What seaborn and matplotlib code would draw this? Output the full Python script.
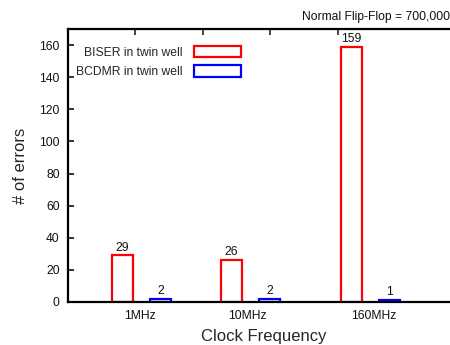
import seaborn as sns
import pandas as pd
import matplotlib.pyplot as plt
from matplotlib.ticker import FixedLocator

# data
freqs = ["1MHz", "10MHz", "160MHz"]
biser = [29, 26, 159]
bcdmr = [2, 2, 1]
series_names = ["BISER in twin well", "BCDMR in twin well"]
colors = {"BISER in twin well": "#ff0000", "BCDMR in twin well": "#0000ff"}

# layout: bar centres on a numeric axis (gnuplot-like spacing)
red_x = [0.807, 2.422, 4.200]
blue_x = [1.378, 2.993, 4.770]
label_x = [1.067, 2.667, 4.533]

df = pd.DataFrame({
    "x": red_x + blue_x,
    "errors": biser + bcdmr,
    "series": [series_names[0]] * 3 + [series_names[1]] * 3,
})

sns.set_theme(style="ticks")
plt.rcParams["font.family"] = ["Liberation Sans", "DejaVu Sans"]

fig = plt.figure(figsize=(4.5, 3.45), dpi=100)
ax = fig.add_axes([68 / 450, 43 / 345, 391 / 450, 273 / 345])

sns.barplot(
    data=df, x="x", y="errors", hue="series", native_scale=True,
    dodge=False, width=0.311 / 0.571, fill=False, linewidth=1.6,
    palette=colors, ax=ax, legend=False,
)

# value labels
for xs, vals in [(red_x, biser), (blue_x, bcdmr)]:
    for x, v in zip(xs, vals):
        ax.text(x, v + 1.2, str(v), ha="center", va="bottom", fontsize=8.7, color="#111111")

ax.set_xlim(0, 5.8)
ax.set_ylim(0, 170)
ax.set_yticks(range(0, 161, 20))
ax.set_xticks(label_x)
ax.set_xticklabels(freqs)
ax.tick_params(axis="x", which="major", length=0, labelsize=8.7, pad=6, colors="#111111")
ax.tick_params(axis="y", direction="in", length=4, width=1.2, labelsize=8.7, pad=6, colors="#111111")

# top ticks (gnuplot mirror) as minor ticks on the top spine only
ax.xaxis.set_minor_locator(FixedLocator([1, 2, 3, 4]))
ax.tick_params(axis="x", which="minor", top=True, bottom=False, direction="in",
               length=4, width=1.2)

for s in ax.spines.values():
    s.set_linewidth(1.6)
    s.set_color("black")

ax.set_xlabel("Clock Frequency", fontsize=12, labelpad=5)
ax.set_ylabel("# of errors", fontsize=12, labelpad=8)

# legend: text then box
handles = [plt.Rectangle((0, 0), 1, 1, facecolor="white", edgecolor=colors[n], linewidth=1.6)
           for n in series_names]
leg = ax.legend(handles, series_names, loc="upper left", bbox_to_anchor=(0.0, 0.97),
                markerfirst=False, frameon=False, fontsize=8.7, handlelength=3.9,
                handleheight=1.1, handletextpad=0.9, labelspacing=0.55, borderaxespad=0.3)

fig.text(302 / 450, 1 - 17 / 345, "Normal Flip-Flop = 700,000", fontsize=8.7,
         ha="left", va="center", color="#111111")

fig.savefig("out.png", dpi=100)
